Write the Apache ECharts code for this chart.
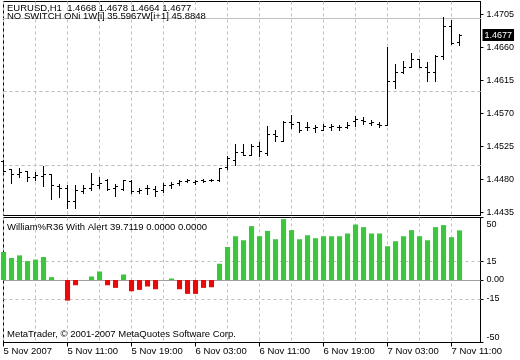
<!DOCTYPE html>
<html><head><meta charset="utf-8">
<script src="https://cdn.jsdelivr.net/npm/echarts@6/dist/echarts.min.js"></script>
<style>html,body{margin:0;padding:0;background:#fff}#c{width:520px;height:360px}</style>
</head><body><div id="c"></div>
<script>
// ---- data (EURUSD H1, from 5 Nov 2007 03:00) ----
const opens  = [1.4505,1.4494,1.4488,1.4491,1.4484,1.4485,1.4487,1.4471,1.4468,1.4451,
                1.4465,1.4468,1.4473,1.4479,1.4468,1.4467,1.4478,1.4465,1.4468,1.4467,
                1.4466,1.4473,1.4475,1.4478,1.4476,1.4480,1.4479,1.4480,1.4497,1.4507,
                1.4518,1.4514,1.4526,1.4516,1.4542,1.4533,1.4559,1.4558,1.4551,1.4550,
                1.4547,1.4552,1.4551,1.4552,1.4560,1.4561,1.4557,1.4556,1.4555,1.4614,
                1.4626,1.4634,1.4644,1.4634,1.4627,1.4649,1.4690,1.4668];
const highs  = [1.4507,1.4494,1.4496,1.4492,1.4490,1.4498,1.4488,1.4474,1.4472,1.4473,
                1.4472,1.4489,1.4484,1.4481,1.4474,1.4480,1.4479,1.4468,1.4473,1.4471,
                1.4475,1.4477,1.4480,1.4481,1.4480,1.4481,1.4481,1.4496,1.4512,1.4529,
                1.4528,1.4529,1.4531,1.4553,1.4547,1.4560,1.4568,1.4559,1.4559,1.4555,
                1.4556,1.4556,1.4554,1.4558,1.4567,1.4565,1.4561,1.4558,1.4661,1.4638,
                1.4642,1.4652,1.4644,1.4640,1.4650,1.4701,1.4697,1.4678];
const lows   = [1.4491,1.4475,1.4484,1.4478,1.4479,1.4471,1.4454,1.4456,1.4441,1.4441,
                1.4462,1.4466,1.4468,1.4466,1.4458,1.4466,1.4462,1.4462,1.4460,1.4457,
                1.4463,1.4469,1.4473,1.4476,1.4474,1.4476,1.4478,1.4478,1.4494,1.4500,
                1.4513,1.4513,1.4512,1.4514,1.4533,1.4532,1.4550,1.4545,1.4547,1.4545,
                1.4547,1.4548,1.4547,1.4550,1.4553,1.4556,1.4554,1.4552,1.4554,1.4605,
                1.4625,1.4634,1.4633,1.4614,1.4614,1.4644,1.4665,1.4664];
const closes = [1.4492,1.4487,1.4490,1.4484,1.4486,1.4488,1.4473,1.4468,1.4451,1.4466,
                1.4468,1.4474,1.4475,1.4467,1.4471,1.4479,1.4464,1.4466,1.4468,1.4464,
                1.4472,1.4474,1.4478,1.4479,1.4478,1.4478,1.4479,1.4496,1.4509,1.4518,
                1.4514,1.4526,1.4519,1.4542,1.4539,1.4559,1.4556,1.4547,1.4552,1.4551,
                1.4553,1.4553,1.4552,1.4555,1.4562,1.4560,1.4558,1.4555,1.4614,1.4626,
                1.4634,1.4644,1.4634,1.4627,1.4649,1.4690,1.4666,1.4677];
const wpr    = [22.4,17.6,19.7,15.1,16.3,18.4,2.3,0,-16.5,-4.2,
                0,2.8,6.8,-4.2,-6.3,4.4,-9.0,-7.9,-5.2,-7.4,
                0,1.2,-7.4,-11.1,-11.1,-6.3,-5.8,13.0,26.4,35.0,
                31.8,43.1,35.0,39.3,32.6,48.7,39.9,32.6,35.8,33.4,
                35.0,35.0,35.0,37.2,44.4,42.3,37.2,37.2,27.0,31.0,
                35.0,39.9,35.0,31.8,42.3,43.9,34.2,39.7];
const priceTicks = [1.4435,1.4480,1.4525,1.4570,1.4615,1.4660,1.4705];
const indTicks = [50,15,0,-15,-50];
const indLevels = [15,-15];
const timeTickIdx = [0,8,16,24,32,40,48,56];
const timeTickLabels = ['5 Nov 2007','5 Nov 11:00','5 Nov 19:00','6 Nov 03:00','6 Nov 11:00','6 Nov 19:00','7 Nov 03:00','7 Nov 11:00'];
const headerLine2 = 'NO SWITCH ONi 1W[i] 35.5967W[i+1] 45.8848';
const indName = 'William%R36 With Alert';
const indValues = [39.7119, 0, 0];
const copyright = 'MetaTrader, \u00A9 2001-2007 MetaQuotes Software Corp.';

// ---- chart ----
const FONT = '"Liberation Sans", Arial, sans-serif';
const FS = 9;
const TFS = 9.5;
const GRID_COLOR = '#c0c0c0';
const XMAX = 59.625;
const PMAX = 1.472273, PMIN = 1.443091;
const n = closes.length;
const lastPrice = closes[n-1];
const ohlc = opens.map((o,i)=>[i,o,highs[i],lows[i],closes[i]]);
const priceLabelValues = priceTicks.concat([lastPrice]);

const chart = echarts.init(document.getElementById('c'), null, {renderer:'canvas'});
const splitAxis = (g)=>({type:'value', gridIndex:g, min:0, max:XMAX, interval:4,
  axisLine:{show:false}, axisTick:{show:false}, axisLabel:{show:false},
  splitLine:{show:true, lineStyle:{color:GRID_COLOR, width:1, type:[3,3]}}});

const header1 = 'EURUSD,H1  ' + [opens[n-1],highs[n-1],lows[n-1],closes[n-1]].map(v=>v.toFixed(4)).join(' ');
const indHeader = indName + ' ' + indValues.map(v=>v.toFixed(4)).join(' ');

const option = {
  animation:false,
  backgroundColor:'#fff',
  textStyle:{fontFamily:FONT, fontSize:FS},
  grid:[
    {left:3.5, right:39.5, top:1.5, height:214, show:true, borderColor:'#000', borderWidth:1, backgroundColor:'#fff'},
    {left:3.5, right:39.5, top:217.5, height:125, show:true, borderColor:'#000', borderWidth:1, backgroundColor:'#fff'}
  ],
  xAxis:[
    splitAxis(0),
    splitAxis(1),
    {type:'value', gridIndex:1, min:0, max:XMAX, interval:8, position:'bottom',
     axisLine:{show:true, onZero:false, lineStyle:{color:'#000'}},
     axisTick:{show:true, length:4, lineStyle:{color:'#000'}},
     splitLine:{show:false},
     axisLabel:{show:true, margin:4, align:'left', color:'#000', fontFamily:FONT, fontSize:TFS,
       showMaxLabel:false, hideOverlap:false,
       formatter:(v)=>{const k=timeTickIdx.indexOf(Math.round(v)); return (k>=0 && Math.abs(v-Math.round(v))<1e-6)?timeTickLabels[k]:'';}}}
  ],
  yAxis:[
    {type:'value', gridIndex:0, position:'right', min:PMIN, max:PMAX,
     splitLine:{show:false},
     axisLine:{show:true, onZero:false, lineStyle:{color:'#000'}},
     axisTick:{show:true, length:3, customValues:priceTicks, lineStyle:{color:'#000'}},
     axisLabel:{show:true, customValues:priceLabelValues, margin:2, color:'#000', fontFamily:FONT, fontSize:FS,
       hideOverlap:false, showMinLabel:true, showMaxLabel:true,
       formatter:(v)=> v===lastPrice ? '{box|'+v.toFixed(4)+'}' : '{t|'+v.toFixed(4)+'}',
       rich:{
         t:{padding:[0,0,0,4], color:'#000', fontFamily:FONT, fontSize:FS},
         box:{backgroundColor:'#000', color:'#fff', padding:[2,2,1,2], fontFamily:FONT, fontSize:FS}
       }}},
    {type:'value', gridIndex:1, position:'right', min:-50, max:50,
     splitLine:{show:false},
     axisLine:{show:true, onZero:false, lineStyle:{color:'#000'}},
     axisTick:{show:true, length:3, customValues:indTicks, lineStyle:{color:'#000'}},
     axisLabel:{show:true, customValues:indTicks, margin:6, color:'#000', fontFamily:FONT, fontSize:FS,
       hideOverlap:false, showMinLabel:true, showMaxLabel:true,
       formatter:(v)=>{ if(v===50) return '{dn|50}'; if(v===-50) return '{up|-50}'; if(v===0) return '0.00'; return String(v);},
       rich:{dn:{padding:[14,0,0,0], fontFamily:FONT, fontSize:FS, color:'#000'}, up:{padding:[0,0,10,0], fontFamily:FONT, fontSize:FS, color:'#000'}}}}
  ],
  series:[
    {type:'custom', xAxisIndex:0, yAxisIndex:0, z:3, data:ohlc, encode:{x:0, y:[1,2,3,4]},
     renderItem:(params, api)=>{
       const x=api.value(0);
       const pH=api.coord([x,api.value(2)]), pL=api.coord([x,api.value(3)]);
       const pO=api.coord([x,api.value(1)]), pC=api.coord([x,api.value(4)]);
       const cx=Math.floor(pH[0]);
       const yH=Math.round(pH[1]), yL=Math.round(pL[1]);
       return {type:'group', children:[
         {type:'rect', shape:{x:cx, y:yH, width:1, height:Math.max(1,yL-yH+1)}, style:{fill:'#000'}},
         {type:'rect', shape:{x:cx-2, y:Math.round(pO[1]), width:2, height:1}, style:{fill:'#000'}},
         {type:'rect', shape:{x:cx+1, y:Math.round(pC[1]), width:2, height:1}, style:{fill:'#000'}}
       ]};
     },
     markLine:{silent:true, z:1, symbol:['none','none'], animation:false, label:{show:false},
       data: priceTicks.map(v=>({yAxis:v, lineStyle:{color:GRID_COLOR, width:1, type:[3,3]}}))
         .concat([{yAxis:lastPrice, lineStyle:{color:'#c0c0c0', width:1, type:'solid'}}])}
    },
    {type:'bar', xAxisIndex:1, yAxisIndex:1, z:3, barWidth:5,
     data: wpr.map((v,i)=>({value:[i,v], itemStyle:{color: v>=0 ? '#32CD32' : '#FF0000'}})),
     markLine:{silent:true, z:1, symbol:['none','none'], animation:false, label:{show:false},
       data: indLevels.map(v=>({yAxis:v, lineStyle:{color:GRID_COLOR, width:1, type:[3,3]}}))
         .concat([{yAxis:0, lineStyle:{color:'#a0a0a0', width:1, type:'solid'}}])}
    }
  ],
  graphic:[
    {type:'text', x:7, y:8, z:100, style:{text:header1, fill:'#000', font:TFS+'px '+FONT, verticalAlign:'middle'}},
    {type:'text', x:7, y:16.5, z:100, style:{text:headerLine2, fill:'#000', font:TFS+'px '+FONT, verticalAlign:'middle'}},
    {type:'text', x:7, y:227, z:100, style:{text:indHeader, fill:'#000', font:TFS+'px '+FONT, verticalAlign:'middle'}},
    {type:'text', x:7, y:334.5, z:100, style:{text:copyright, fill:'#000', font:TFS+'px '+FONT, verticalAlign:'middle'}}
  ]
};
chart.setOption(option);
</script>
</body></html>
